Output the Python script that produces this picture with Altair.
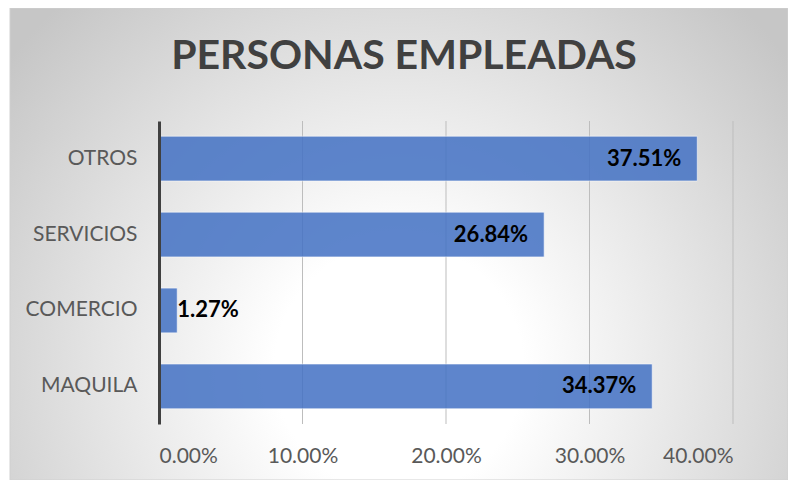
import altair as alt
import pandas as pd

categories = ["OTROS", "SERVICIOS", "COMERCIO", "MAQUILA"]
values = [0.3751, 0.2684, 0.0127, 0.3437]
label_inside = [True, True, False, True]
tick_values = [0.0, 0.1, 0.2, 0.3, 0.4]
title_text = "PERSONAS EMPLEADAS"

df = pd.DataFrame({"cat": categories, "val": values, "inside": label_inside})
df["label"] = [f"{v * 100:.2f}%" for v in values]
grid_df = pd.DataFrame({"t": tick_values[1:]})

W, H = 574, 303
FONT = "Lato"

x_scale = alt.Scale(domain=[0, 0.4], nice=False, zero=True)
y_scale = alt.Scale(domain=categories, paddingInner=0.41, paddingOuter=0.2)

bg = alt.Chart(pd.DataFrame({"a": [0]})).mark_rect(
    fill=alt.RadialGradient(
        gradient="radial",
        stops=[
            alt.GradientStop(offset=0.0, color="#ffffff"),
            alt.GradientStop(offset=0.25, color="#ffffff"),
            alt.GradientStop(offset=1.0, color="#c6c6c6"),
        ],
        x1=0.5, y1=0.66, r1=0.0,
        x2=0.5, y2=0.66, r2=0.64,
    ),
    stroke="#d0d0d0",
    strokeWidth=1,
).encode(
    x=alt.value(-149), x2=alt.value(629), y=alt.value(-113), y2=alt.value(359)
)

grid = alt.Chart(grid_df).mark_rule(color="#bdbdbd", strokeWidth=1).encode(
    x=alt.X("t:Q", scale=x_scale),
    y=alt.value(0),
    y2=alt.value(H),
)

bars = alt.Chart(df).mark_bar(
    color="#4472C4", opacity=0.86, stroke="#ffffff", strokeOpacity=0.6, strokeWidth=1
).encode(
    x=alt.X(
        "val:Q",
        scale=x_scale,
        axis=alt.Axis(
            values=tick_values, format=".2%", grid=False, ticks=False, domain=False,
            labelFont=FONT, labelFontSize=21, labelColor="#595959", labelPadding=21,
            title=None, zindex=1,
        ),
    ),
    y=alt.Y(
        "cat:N",
        sort=categories,
        scale=y_scale,
        axis=alt.Axis(
            grid=False, ticks=False, domain=True, domainColor="#404040", domainWidth=3,
            labelFont=FONT, labelFontSize=21, labelColor="#595959", labelPadding=22,
            title=None, zindex=1,
        ),
    ),
)

text_in = alt.Chart(df).transform_filter("datum.inside").mark_text(
    align="right", baseline="middle", dx=-16, font=FONT, fontWeight="bold",
    fontSize=22, color="#000000",
).encode(x=alt.X("val:Q", scale=x_scale), y=alt.Y("cat:N", sort=categories, scale=y_scale), text="label:N")

text_out = alt.Chart(df).transform_filter("!datum.inside").mark_text(
    align="left", baseline="middle", dx=0, font=FONT, fontWeight="bold",
    fontSize=22, color="#000000",
).encode(x=alt.X("val:Q", scale=x_scale), y=alt.Y("cat:N", sort=categories, scale=y_scale), text="label:N")

title = alt.Chart(pd.DataFrame({"t": [title_text]})).mark_text(
    align="center", baseline="middle", font=FONT, fontWeight="bold", fontSize=41,
    color="#404040",
).encode(x=alt.value(245), y=alt.value(-64), text="t:N")

chart = alt.layer(bg, grid, bars, text_in, text_out, title).properties(
    width=W,
    height=H,
    autosize=alt.AutoSizeParams(type="none"),
    padding={"left": 151, "top": 113, "right": 55, "bottom": 56},
    background="#ffffff",
).configure_view(stroke=None)

chart.save("out.html", embed_options={"renderer": "svg", "actions": False})
